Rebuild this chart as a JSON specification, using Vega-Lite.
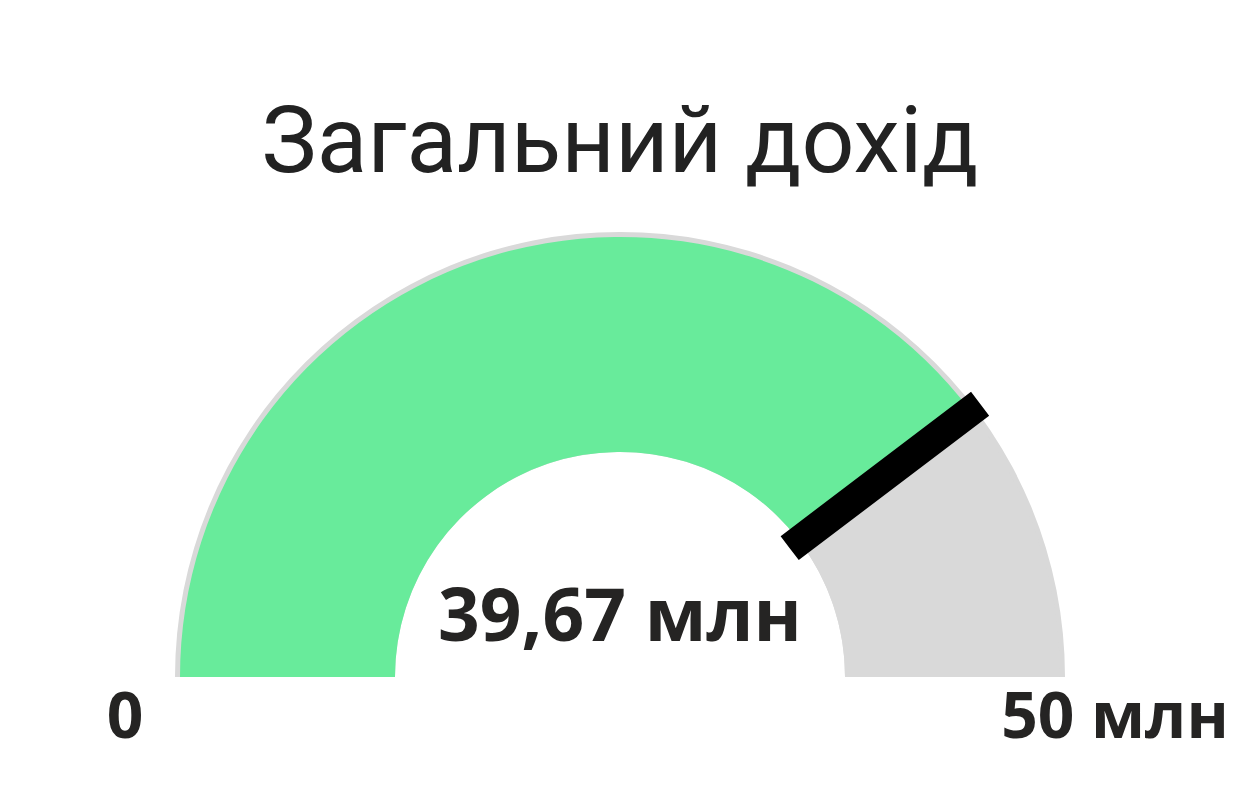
{
  "$schema": "https://vega.github.io/schema/vega-lite/v6.json",
  "width": 1240,
  "height": 596,
  "padding": {"top": 98, "left": 0, "right": 0, "bottom": 0},
  "background": "white",
  "view": {"stroke": null},
  "title": {
    "text": "Загальний дохід",
    "font": "Roboto",
    "fontSize": 93,
    "fontWeight": "normal",
    "color": "#222222",
    "anchor": "middle",
    "offset": 20
  },
  "datasets": {
    "gauge": [
      {"part": "Загальний дохід", "amount": 39.67, "order": 1, "label": "39,67 млн"},
      {"part": "Залишок", "amount": 10.33, "order": 2, "label": ""}
    ],
    "ends": [
      {"label": "0", "amount": 0},
      {"label": "50 млн", "amount": 50}
    ]
  },
  "layer": [
    {
      "data": {"name": "ends"},
      "mark": {"type": "arc", "outerRadius": 445, "innerRadius": 225, "color": "#D9D9D9"},
      "encoding": {
        "x": {"value": {"expr": "width/2"}},
        "y": {"value": {"expr": "height*0.78"}},
        "theta": {"aggregate": "min", "field": "amount", "type": "quantitative", "scale": {"domain": [0, 50], "range": [-1.5708, 1.5708]}},
        "theta2": {"aggregate": "max", "field": "amount"}
      }
    },
    {
      "data": {"name": "gauge"},
      "mark": {"type": "arc", "outerRadius": 440, "innerRadius": 225},
      "encoding": {
        "x": {"value": {"expr": "width/2"}},
        "y": {"value": {"expr": "height*0.78"}},
        "theta": {"field": "amount", "type": "quantitative", "stack": true},
        "order": {"field": "order"},
        "color": {
          "field": "part",
          "type": "nominal",
          "scale": {"domain": ["Загальний дохід", "Залишок"], "range": ["#68EB9B", "#D9D9D9"]},
          "legend": null
        }
      }
    },
    {
      "data": {"name": "gauge"},
      "transform": [{"filter": "datum.order == 1"}],
      "mark": {"type": "arc", "outerRadius": 452, "innerRadius": 213, "fill": "black", "stroke": "black", "strokeWidth": 30},
      "encoding": {
        "x": {"value": {"expr": "width/2"}},
        "y": {"value": {"expr": "height*0.78"}},
        "theta": {"field": "amount", "type": "quantitative", "stack": null},
        "theta2": {"field": "amount"}
      }
    },
    {
      "data": {"name": "gauge"},
      "transform": [{"filter": "datum.order == 1"}],
      "mark": {"type": "text", "font": "Open Sans", "fontWeight": "bold", "fontSize": 73, "color": "#252423", "align": "center", "baseline": "alphabetic", "dy": -36},
      "encoding": {
        "x": {"value": {"expr": "width/2"}},
        "y": {"value": {"expr": "height*0.78"}},
        "text": {"field": "label"}
      }
    },
    {
      "data": {"name": "ends"},
      "mark": {"type": "text", "font": "Open Sans", "fontWeight": "bold", "fontSize": 64, "color": "#252423", "align": "center", "baseline": "middle", "radius": 495, "dy": 42},
      "encoding": {
        "x": {"value": {"expr": "width/2"}},
        "y": {"value": {"expr": "height*0.78"}},
        "theta": {"field": "amount", "type": "quantitative", "stack": null},
        "text": {"field": "label"}
      }
    }
  ]
}
